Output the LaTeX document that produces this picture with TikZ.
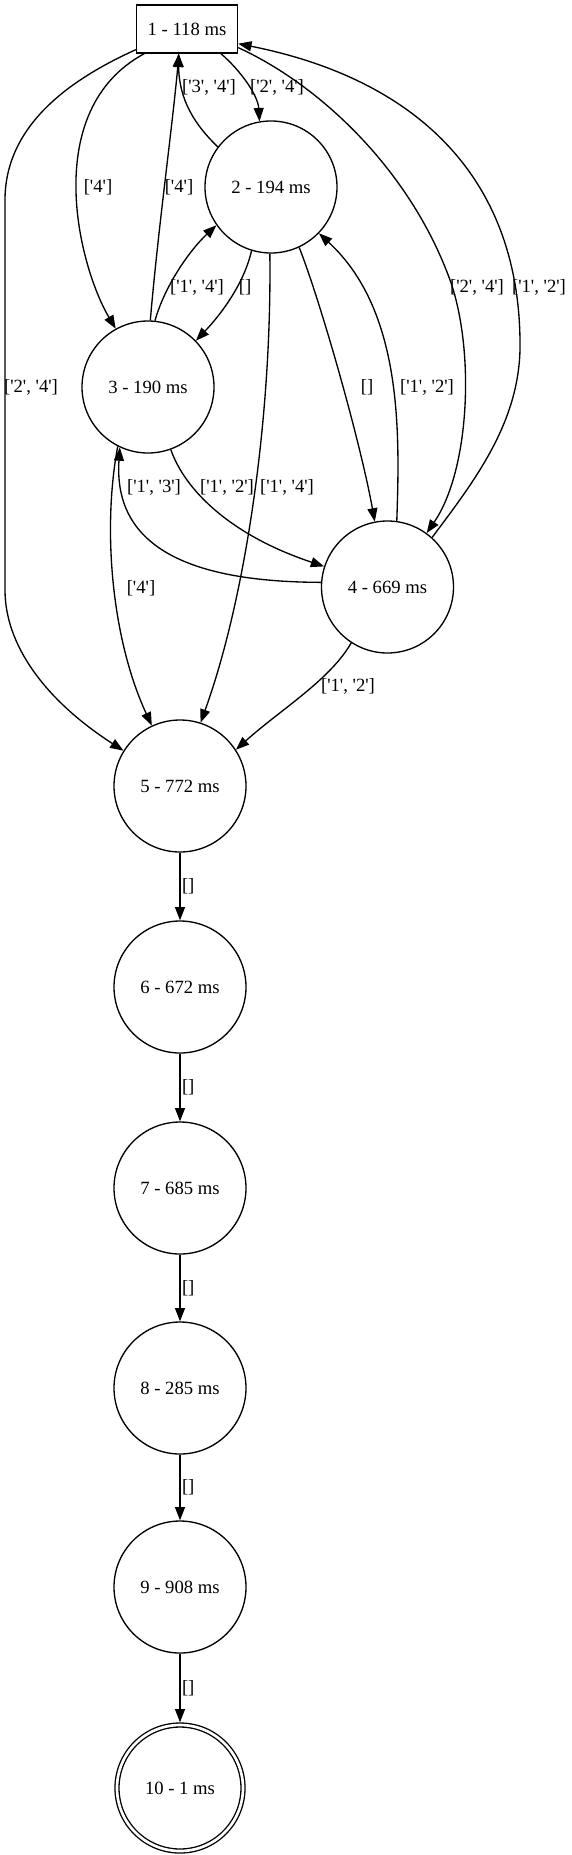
\documentclass[tikz,border=0pt]{standalone}
\usepackage{fontspec}
\setmainfont{Liberation Serif}[Ligatures=TeXOff]
\usetikzlibrary{arrows.meta}

\begin{document}
\begin{tikzpicture}[x=0.75pt,y=-0.75pt,
  every node/.style={font=\fontsize{14pt}{17pt}\selectfont},
  job/.style={draw,circle,line width=1pt,minimum size=99pt,inner sep=0pt},
  firstjob/.style={draw,rectangle,line width=1pt,minimum width=75.75pt,minimum height=36pt,inner sep=0pt},
  lastjob/.style={job,minimum size=94.5pt,double,double distance=2pt,outer sep=2pt},
  link/.style={line width=1pt,-{Triangle[length=10pt,width=7.5pt]}},
  lbl/.style={inner sep=0pt}]
\useasboundingbox (0,0) rectangle (571,1855);

% Jobs
\node[firstjob] (n1) at (187,29) {1 - 118 ms};
\node[job] (n2) at (271,187) {2 - 194 ms};
\node[job] (n3) at (148,387) {3 - 190 ms};
\node[job] (n4) at (387.5,587) {4 - 669 ms};
\node[job] (n5) at (180,786) {5 - 772 ms};
\node[job] (n6) at (180,987) {6 - 672 ms};
\node[job] (n7) at (180,1188) {7 - 685 ms};
\node[job] (n8) at (180,1388) {8 - 285 ms};
\node[job] (n9) at (180,1587) {9 - 908 ms};
\node[lastjob] (n10) at (180,1788) {10 - 1 ms};

% Edges leaving 1
\draw[link] (n1.202) .. controls (80,75) and (5,120) .. (5,200) -- (5,590) .. controls (5,645) and (45,700) .. (n5.148);
\draw[link] (n1.210) .. controls (40,110) and (78,265) .. (n3.119);
\draw[link] (n1.324) .. controls (240,70) and (258,95) .. (n2.100);
\draw[link] (n1.340) .. controls (320,85) and (410,170) .. (450,280) .. controls (475,350) and (470,470) .. (n4.54);

% Edges leaving 2
\draw[link] (n2.143) .. controls (195,125) and (179,100) .. (n1.251);
\draw[link] (n2.253.5) .. controls (245,280) and (225,310) .. (n3.44);
\draw[link] (n2.269) .. controls (272,420) and (245,600) .. (n5.72);
\draw[link] (n2.295) .. controls (320,300) and (360,440) .. (n4.101);

% Edges leaving 3
\draw[link] (n3.88) .. controls (158,230) and (172,130) .. (n1.252);
\draw[link] (n3.84) .. controls (165,285) and (190,250) .. (n2.215);
\draw[link] (n3.290) .. controls (185,490) and (230,535) .. (n4.162);
\draw[link] (n3.243) .. controls (102,530) and (112,640) .. (n5.115);

% Edges leaving 4
\draw[link] (n4.48) .. controls (475,480) and (522,420) .. (520,340) .. controls (518,180) and (420,80) .. (n1.344);
\draw[link] (n4.82) .. controls (400,430) and (402,310) .. (n2.316);
\draw[link] (n4.176.5) .. controls (195,582) and (113,550) .. (n3.245);
\draw[link] (n4.237) .. controls (330,680) and (280,710) .. (n5.33);

% Chain 5 to 10
\foreach \a/\b in {5/6,6/7,7/8,8/9,9/10}
  \draw[link] (n\a) -- (n\b) node[lbl,midway,right=1pt] {[]};

% Edge labels
\node[lbl] (l15) at (31,387) {['2', '4']};
\node[lbl] (l13) at (98,187) {['4']};
\node[lbl] (l31) at (179,187) {['4']};
\node[lbl] (l21) at (209,87) {['3', '4']};
\node[lbl] (l12) at (277,87) {['2', '4']};
\node[lbl] (l32) at (197,287) {['1', '4']};
\node[lbl] (l23) at (245,287) {[]};
\node[lbl] (l25) at (287,487) {['1', '4']};
\node[lbl] (l24) at (367,387) {[]};
\node[lbl] (l42) at (427,387) {['1', '2']};
\node[lbl] (l14) at (477,287) {['2', '4']};
\node[lbl] (l41) at (539,287) {['1', '2']};
\node[lbl] (l34) at (227,487) {['1', '2']};
\node[lbl] (l43) at (154,487) {['1', '3']};
\node[lbl] (l35) at (141,588) {['4']};
\node[lbl] (l45) at (348,686) {['1', '2']};
\end{tikzpicture}
\end{document}
